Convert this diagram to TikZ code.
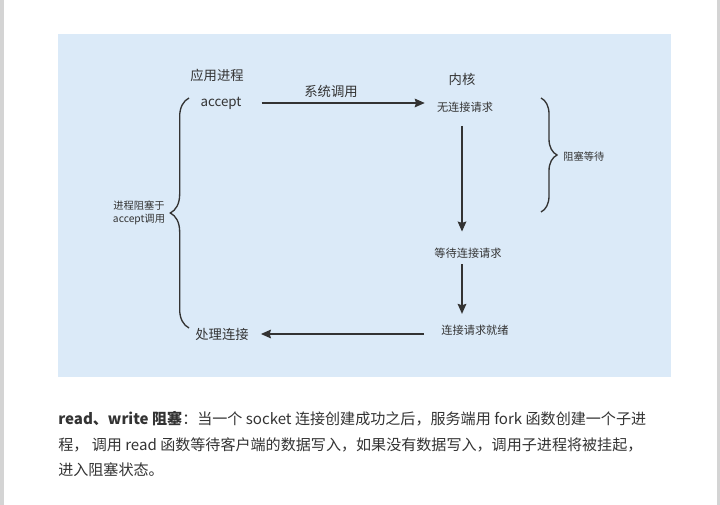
\documentclass[tikz,border=0pt]{standalone}
\usepackage{fontspec}
\setmainfont{Noto Sans CJK SC}
\usetikzlibrary{arrows.meta,decorations.pathreplacing}
\definecolor{bgblue}{HTML}{DBEAF8}
\definecolor{ink}{HTML}{333333}
\definecolor{edge}{HTML}{D4D4D4}
\tikzset{
  big/.style={inner sep=0pt, text=ink, font=\fontsize{10pt}{12pt}\selectfont},
  small/.style={inner sep=0pt, text=ink, font=\fontsize{8.4pt}{10pt}\selectfont},
  tiny/.style={inner sep=0pt, text=ink, font=\fontsize{7.7pt}{10pt}\selectfont, align=center},
  para/.style={inner sep=0pt, anchor=west, text=ink, font=\fontsize{11.3pt}{13pt}\selectfont},
  arr/.style={draw=ink, line width=1.1pt, -{Stealth[length=7.5pt,width=6.5pt,inset=1pt]}},
  bracestyle/.style={draw=ink, line width=1pt, decorate},
}
\begin{document}
\begin{tikzpicture}[x=0.75pt,y=-0.75pt]
\useasboundingbox (0,0) rectangle (720,505);
\fill[white] (0,0) rectangle (720,505);
\fill[edge] (0,0) rectangle (3.5,505);
\fill[edge] (717,0) rectangle (720,505);
\fill[bgblue] (58,34) rectangle (671,377.5);

\node[big] (app) at (217,75) {应用进程};
\node[big] (accept) at (221,103) {accept};
\node[big] (sys) at (331,91) {系统调用};
\node[big] (kernel) at (462,79) {内核};
\node[small] (noconn) at (465,107) {无连接请求};
\node[small] (wait) at (468,253) {等待连接请求};
\node[small] (ready) at (475,330) {连接请求就绪};
\node[big] (handle) at (222,334) {处理连接};
\node[tiny] (blocked) at (139,213) {进程阻塞于\\accept调用};
\node[tiny, anchor=west] (bwait) at (563,157) {阻塞等待};

\draw[arr, shorten <=15pt, shorten >=9pt] (accept.east) -- (accept.east -| noconn.west);
\draw[arr, shorten <=10pt, shorten >=12pt] ([xshift=-2.25pt]noconn.south) -- ([xshift=-2.25pt]noconn.south |- wait.north);
\draw[arr, shorten <=4.5pt, shorten >=8pt] ([xshift=-4.5pt]wait.south) -- ([xshift=-4.5pt]wait.south |- ready.north);
\draw[arr, shorten <=12.75pt, shorten >=9pt] (ready.west |- handle.east) -- (handle.east);

\draw[bracestyle, decoration={brace, amplitude=14pt}] (189,328) -- (189,98);
\draw[bracestyle, decoration={brace, amplitude=12pt}] (541,98) -- (541,212);

\node[para] (p1) at (58,419) {\textbf{read、write 阻塞}：当一个 socket 连接创建成功之后，服务端用 fork 函数创建一个子进};
\node[para] (p2) at (58,445) {程， 调用 read 函数等待客户端的数据写入，如果没有数据写入，调用子进程将被挂起，};
\node[para] (p3) at (58,470) {进入阻塞状态。};
\end{tikzpicture}
\end{document}
